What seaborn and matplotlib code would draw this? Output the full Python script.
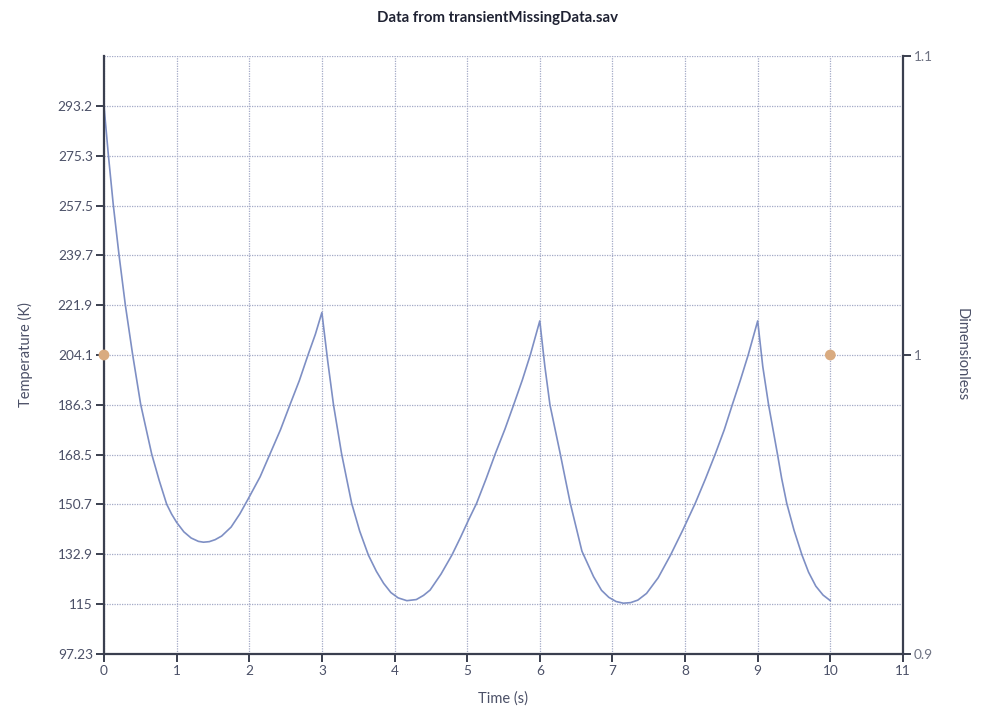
import numpy as np
import pandas as pd
import matplotlib
matplotlib.use("Agg")
import matplotlib.pyplot as plt
import seaborn as sns

# ---- data ----
time_s = [0.0, 0.06, 0.128, 0.207, 0.294, 0.395, 0.505, 0.657, 0.76, 0.863, 0.93, 1.0,
          1.1, 1.2, 1.3, 1.37, 1.45, 1.53, 1.62, 1.75, 1.87, 1.99, 2.15, 2.29, 2.43, 2.56, 2.69, 2.81, 2.91, 3.0,
          3.08, 3.16, 3.27, 3.34, 3.41, 3.52, 3.64, 3.75, 3.85, 3.95, 4.05, 4.17, 4.30, 4.40, 4.49,
          4.64, 4.79, 4.91, 5.02, 5.13, 5.26, 5.39, 5.52, 5.64, 5.76, 5.87, 6.0,
          6.07, 6.14, 6.28, 6.35, 6.42, 6.51, 6.58, 6.74, 6.85, 6.95, 7.05, 7.15, 7.25, 7.35, 7.47,
          7.63, 7.80, 7.97, 8.14, 8.28, 8.42, 8.54, 8.65, 8.76, 8.87, 9.0,
          9.07, 9.15, 9.27, 9.33, 9.40, 9.50, 9.61, 9.70, 9.80, 9.90, 10.0]
temperature_K = [293.2, 275.7, 257.8, 239.9, 222.0, 204.2, 186.5, 168.7, 159.3, 150.8, 147.3, 144.3,
                 140.9, 138.7, 137.5, 137.2, 137.4, 138.1, 139.4, 142.6, 147.3, 152.9, 160.6, 169.0, 177.4, 186.3, 195.0, 204.2, 211.5, 219.3,
                 202.0, 186.3, 169.0, 160.0, 151.1, 141.2, 132.6, 126.8, 122.5, 119.2, 117.3, 116.3, 116.7, 118.2, 120.1,
                 125.8, 132.6, 139.0, 145.2, 151.1, 159.8, 169.0, 177.6, 186.3, 195.2, 204.2, 216.3,
                 200.0, 186.3, 169.0, 160.0, 151.1, 141.5, 134.0, 124.9, 120.0, 117.5, 116.0, 115.4, 115.6, 116.5, 118.9,
                 124.5, 132.6, 141.6, 151.1, 159.8, 169.0, 177.4, 186.3, 195.0, 204.2, 216.3,
                 200.0, 186.3, 169.0, 160.0, 151.1, 141.5, 132.6, 126.5, 121.5, 118.3, 116.3]

dimless_time = [0.0, 10.0]
dimless_value = [1.0, 1.0]

temp_ticks = [97.23, 115, 132.9, 150.7, 168.5, 186.3, 204.1, 221.9, 239.7, 257.5, 275.3, 293.2]
temp_tick_labels = ["97.23", "115", "132.9", "150.7", "168.5", "186.3", "204.1",
                    "221.9", "239.7", "257.5", "275.3", "293.2"]
time_ticks = list(range(0, 12))
dim_ticks = [0.9, 1.0, 1.1]
dim_tick_labels = ["0.9", "1", "1.1"]

title = "Data from transientMissingData.sav"
xlabel = "Time (s)"
ylabel_left = "Temperature (K)"
ylabel_right = "Dimensionless"

# ---- styling ----
sns.set_theme(style="white")
plt.rcParams["font.family"] = ["Lato", "DejaVu Sans"]

spine_c = "#3a3f4f"
tick_c = "#4b5067"
grid_c = "#a3a9c6"
line_c = "#7e8fc4"
dot_c = "#d9ab80"

fig = plt.figure(figsize=(9.95, 7.14), dpi=100)
ax = fig.add_axes([0.1045, 0.084, 0.803, 0.8376])

df = pd.DataFrame({"t": time_s, "T": temperature_K})
sns.lineplot(data=df, x="t", y="T", ax=ax, color=line_c, linewidth=1.2, sort=False)

ax.set_xlim(0, 11)
ax.set_ylim(97.23, 311.0)
ax.set_xticks(time_ticks)
ax.set_xticklabels([str(t) for t in time_ticks])
ax.set_yticks(temp_ticks)
ax.set_yticklabels(temp_tick_labels)
ax.set_yticks([311.0], minor=True)
ax.tick_params(axis="y", which="minor", length=0)

ax.grid(True, which="both", linestyle=(0, (1, 1)), color=grid_c, linewidth=0.9)
ax.set_axisbelow(True)

ax.spines["top"].set_visible(False)
ax.spines["right"].set_visible(False)
for s in ["left", "bottom"]:
    ax.spines[s].set_color(spine_c)
    ax.spines[s].set_linewidth(1.6)

ax.tick_params(axis="both", which="major", direction="out", length=6, width=1.4,
               color=spine_c, labelcolor=tick_c, labelsize=9.8, pad=2,
               left=True, bottom=True)
ax.set_xlabel(xlabel, color=tick_c, fontsize=10.5)
ax.xaxis.set_label_coords(0.5, -0.062)
ax.set_ylabel(ylabel_left, color=tick_c, fontsize=10.5)
ax.yaxis.set_label_coords(-0.089, 0.5)

ax2 = ax.twinx()
dd = pd.DataFrame({"t": dimless_time, "v": dimless_value})
sns.scatterplot(data=dd, x="t", y="v", ax=ax2, color=dot_c, s=60, edgecolor="none", zorder=5, clip_on=False)
ax2.set_ylim(0.9, 1.1)
ax2.set_yticks(dim_ticks)
ax2.set_yticklabels(dim_tick_labels)
ax2.grid(False)
for s in ["top", "left", "bottom"]:
    ax2.spines[s].set_visible(False)
ax2.spines["right"].set_color(spine_c)
ax2.spines["right"].set_linewidth(1.6)
ax2.tick_params(axis="y", direction="out", length=6, width=1.4, color=spine_c,
                labelcolor="#6e7282", labelsize=9.8, pad=2, right=True)
ax2.set_ylabel(ylabel_right, color=tick_c, fontsize=10.5, rotation=270, va="center")
ax2.yaxis.set_label_coords(1.074, 0.5)
ax2.set_xlabel("")

fig.suptitle(title, fontsize=10.8, fontweight="bold", color="#1f2233", y=0.985)

fig.savefig("out.png", dpi=100)
